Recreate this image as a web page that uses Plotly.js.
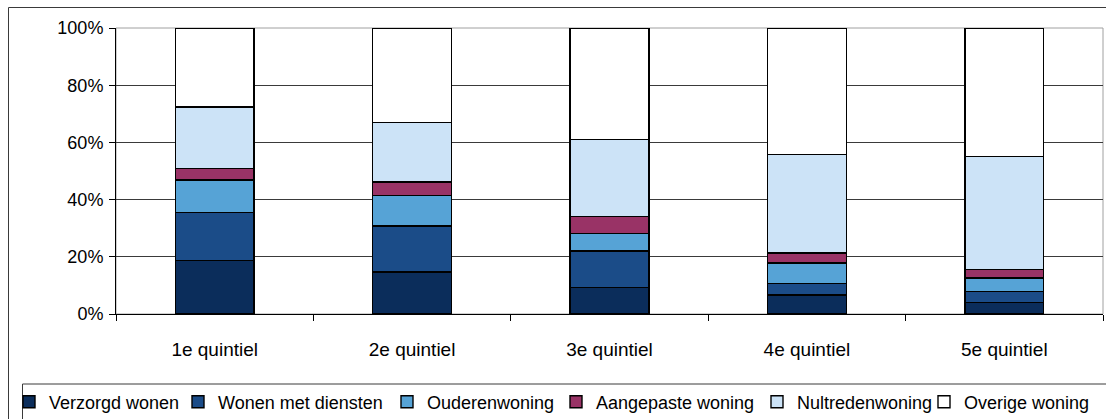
<!DOCTYPE html>
<html>
<head>
<meta charset="utf-8">
<script src="https://cdn.plot.ly/plotly-3.0.1.min.js"></script>
<style>
  html, body { margin: 0; padding: 0; background: #fff; }
  #chart { width: 1106px; height: 419px; }
</style>
</head>
<body>
<div id="chart"></div>
<script>
// ---- Data (% of each quintile) ----
const categories = ['1e quintiel', '2e quintiel', '3e quintiel', '4e quintiel', '5e quintiel'];
const seriesNames = ['Verzorgd wonen', 'Wonen met diensten', 'Ouderenwoning', 'Aangepaste woning', 'Nultredenwoning', 'Overige woning'];
const verzorgdWonen     = [18.8, 14.7,  9.3,  6.6,  4.0];
const wonenMetDiensten  = [16.7, 16.1, 12.7,  4.0,  3.8];
const ouderenwoning     = [11.4, 10.6,  6.1,  7.3,  4.8];
const aangepasteWoning  = [ 4.0,  4.8,  6.0,  3.5,  2.9];
const nultredenwoning   = [21.5, 20.8, 26.9, 34.3, 39.5];
const overigeWoning     = [27.6, 33.0, 39.0, 44.3, 45.0];
const yTickValues = [0, 20, 40, 60, 80, 100];

// ---- Styling ----
const seriesValues = [verzorgdWonen, wonenMetDiensten, ouderenwoning, aangepasteWoning, nultredenwoning, overigeWoning];
const colors = ['#0b2d5b', '#1b4c88', '#56a3d6', '#993366', '#cce3f7', '#ffffff'];
const FONT = 'Liberation Sans, Arial, sans-serif';

const W = 1106, H = 419;
const L = 116, R = 1103, T = 28, B = 314;
const pw = R - L, ph = B - T;
const px = v => (v - L) / pw;
const py = v => (B - v) / ph;

// legend text start positions (pixels) for each series
const legendTextX = [49, 218, 427, 596, 797, 964];
const legendY = 402;

const traces = seriesNames.map((name, i) => ({
  type: 'bar',
  name: name,
  x: categories,
  y: seriesValues[i],
  marker: { color: colors[i], line: { color: '#000000', width: 1.4 } },
  legend: i === 0 ? 'legend' : 'legend' + (i + 1),
  hoverinfo: 'skip'
}));

const layout = {
  width: W, height: H,
  margin: { l: L, r: W - R, t: T, b: H - B, pad: 0 },
  paper_bgcolor: '#ffffff',
  plot_bgcolor: '#ffffff',
  font: { family: FONT, size: 18, color: '#000000' },
  barmode: 'stack',
  bargap: 0.6,
  showlegend: true,
  xaxis: {
    type: 'category',
    showline: true, linecolor: '#000000', linewidth: 1,
    ticks: 'outside', tickson: 'boundaries', ticklen: 6, tickcolor: '#000000', tickwidth: 1,
    showgrid: false, zeroline: false,
    tickfont: { family: FONT, size: 19, color: '#000000' },
    ticklabelstandoff: 18,
    fixedrange: true
  },
  yaxis: {
    range: [0, 100],
    tickvals: yTickValues,
    ticktext: yTickValues.map(v => v + '%'),
    showline: true, linecolor: '#000000', linewidth: 1,
    ticks: 'outside', ticklen: 6, tickcolor: '#000000', tickwidth: 1,
    showgrid: true, gridcolor: '#3a3a3a', gridwidth: 1,
    zeroline: false,
    tickfont: { family: FONT, size: 18, color: '#000000' },
    ticklabelstandoff: 2,
    fixedrange: true
  },
  shapes: [
    // plot-area border (grey top/right)
    { type: 'rect', xref: 'paper', yref: 'paper', x0: 0, x1: 1, y0: 0, y1: 1,
      line: { color: '#a0a0a0', width: 1 }, layer: 'below' },
    // outer chart border (cropped at right/bottom)
    { type: 'rect', xref: 'paper', yref: 'paper', x0: px(8.5), x1: px(1130), y0: py(440), y1: py(7.5),
      line: { color: '#3a3a3a', width: 1 }, fillcolor: 'rgba(0,0,0,0)', layer: 'above' },
    // legend box (cropped at right/bottom)
    { type: 'rect', xref: 'paper', yref: 'paper', x0: px(22.5), x1: px(1130), y0: py(440), y1: py(384),
      line: { color: '#3a3a3a', width: 1 }, fillcolor: 'rgba(0,0,0,0)', layer: 'above' }
  ]
};

seriesNames.forEach((name, i) => {
  const key = i === 0 ? 'legend' : 'legend' + (i + 1);
  layout[key] = {
    orientation: 'h',
    xref: 'container', yref: 'container',
    x: (legendTextX[i] - 40) / W, xanchor: 'left',
    y: 1 - legendY / H, yanchor: 'middle',
    bgcolor: 'rgba(0,0,0,0)', borderwidth: 0,
    font: { family: FONT, size: 18, color: '#000000' },
    itemclick: false, itemdoubleclick: false
  };
});

Plotly.newPlot('chart', traces, layout, { displayModeBar: false, staticPlot: true });
</script>
</body>
</html>
